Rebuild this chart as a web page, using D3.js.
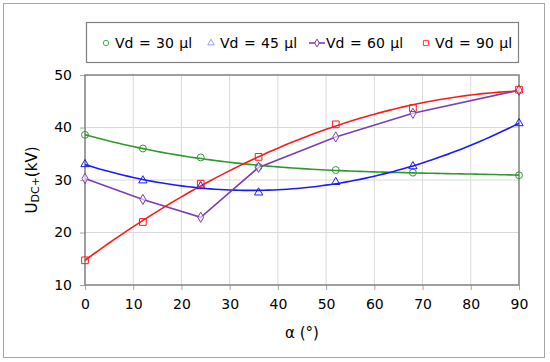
<!DOCTYPE html>
<html>
<head>
<meta charset="utf-8">
<script src="https://cdn.jsdelivr.net/npm/d3@7"></script>
<style>
  body { margin: 0; background: #fff; }
  text { font-family: "DejaVu Sans", Verdana, sans-serif; fill: #000; }
</style>
</head>
<body>
<div id="chart"></div>
<script>
// angle values (deg)
const alpha = [0, 12, 24, 36, 52, 68, 90];

// U_DC+ (kV) for each droplet volume
const vd30 = [38.6, 36.0, 34.3, 32.5, 31.9, 31.4, 30.9];
const vd45 = [33.0, 29.9, 28.8, 27.6, 29.6, 32.6, 40.8];
const vd60 = [30.3, 26.3, 22.9, 32.4, 38.2, 42.7, 47.1];
const vd90 = [14.7, 22.0, 29.3, 34.4, 40.6, 43.7, 47.2];

const seriesNames = ["Vd = 30 µl", "Vd = 45 µl", "Vd = 60 µl", "Vd = 90 µl"];
const xTicks = [0, 10, 20, 30, 40, 50, 60, 70, 80, 90];
const yTicks = [10, 20, 30, 40, 50];

const width = 550, height = 362;
const plot = { left: 85, right: 519, top: 75, bottom: 285 };

const svg = d3.select("#chart").append("svg")
    .attr("width", width)
    .attr("height", height);

// outer frame
svg.append("rect")
    .attr("x", 3.5).attr("y", 3.5)
    .attr("width", 541).attr("height", 354)
    .attr("fill", "#fff")
    .attr("stroke", "#a6a6a6");

const x = d3.scaleLinear().domain([0, 90]).range([plot.left, plot.right]);
const y = d3.scaleLinear().domain([10, 50]).range([plot.bottom, plot.top]);

// gridlines
svg.append("g").selectAll("line")
    .data(xTicks.slice(1, -1))
    .join("line")
    .attr("x1", d => x(d)).attr("x2", d => x(d))
    .attr("y1", plot.top).attr("y2", plot.bottom)
    .attr("stroke", "#d9d9d9");
svg.append("g").selectAll("line")
    .data(yTicks.slice(1, -1))
    .join("line")
    .attr("x1", plot.left).attr("x2", plot.right)
    .attr("y1", d => y(d)).attr("y2", d => y(d))
    .attr("stroke", "#d9d9d9");

// axes
const xAxis = svg.append("g")
    .attr("transform", "translate(0," + plot.bottom + ")")
    .call(d3.axisBottom(x).tickValues(xTicks).tickSize(5).tickPadding(9));
const yAxis = svg.append("g")
    .attr("transform", "translate(" + plot.left + ",0)")
    .call(d3.axisLeft(y).tickValues(yTicks).tickSize(5).tickPadding(8));
[xAxis, yAxis].forEach(function(a) {
    a.select(".domain").remove();
    a.selectAll(".tick line").attr("stroke", "#a6a6a6");
    a.selectAll(".tick text").style("font-size", "14px")
        .style("font-family", "'DejaVu Sans', Verdana, sans-serif");
});

// plot border
svg.append("rect")
    .attr("x", plot.left).attr("y", plot.top)
    .attr("width", plot.right - plot.left).attr("height", plot.bottom - plot.top)
    .attr("fill", "none")
    .attr("stroke", "#808080")
    .attr("stroke-width", 1.5);

// least squares polynomial trendline (like the spreadsheet's)
function polyfit(xs, ys, order) {
    const n = order + 1;
    const A = [];
    for (let i = 0; i < n; i++) {
        A.push([]);
        for (let j = 0; j <= n; j++) A[i].push(0);
    }
    xs.forEach(function(xv, k) {
        for (let i = 0; i < n; i++) {
            for (let j = 0; j < n; j++) A[i][j] += Math.pow(xv, i + j);
            A[i][n] += ys[k] * Math.pow(xv, i);
        }
    });
    for (let i = 0; i < n; i++) {
        let p = i;
        for (let r = i + 1; r < n; r++) if (Math.abs(A[r][i]) > Math.abs(A[p][i])) p = r;
        [A[i], A[p]] = [A[p], A[i]];
        for (let r = 0; r < n; r++) {
            if (r === i) continue;
            const f = A[r][i] / A[i][i];
            for (let c = i; c <= n; c++) A[r][c] -= f * A[i][c];
        }
    }
    const coef = A.map((row, i) => row[n] / row[i]);
    return xv => coef.reduce((s, c, i) => s + c * Math.pow(xv, i), 0);
}

const series = [
    { name: seriesNames[0], values: vd30, color: "#2e9a2e", marker: "circle", trend: true },
    { name: seriesNames[1], values: vd45, color: "#1a1aff", marker: "triangle", trend: true },
    { name: seriesNames[2], values: vd60, color: "#7b3fb5", marker: "diamond", trend: false },
    { name: seriesNames[3], values: vd90, color: "#ff1a1a", marker: "square", trend: true }
];

const symbolType = {
    circle: d3.symbolCircle,
    triangle: d3.symbolTriangle,
    diamond: d3.symbolDiamond,
    square: d3.symbolSquare
};
const symbolSize = { circle: 38, triangle: 30, diamond: 30, square: 45 };

const line = d3.line().x(d => x(d[0])).y(d => y(d[1]));
const samples = d3.range(0, 90.01, 1);

series.forEach(function(s) {
    let pts;
    if (s.trend) {
        const f = polyfit(alpha, s.values, s.marker === "circle" ? 3 : 2);
        pts = samples.map(a => [a, f(a)]);
    } else {
        pts = alpha.map((a, i) => [a, s.values[i]]);
    }
    svg.append("path")
        .datum(pts)
        .attr("d", line)
        .attr("fill", "none")
        .attr("stroke", s.color)
        .attr("stroke-width", 1.6);
});

series.forEach(function(s) {
    svg.append("g").selectAll("path")
        .data(alpha.map((a, i) => [a, s.values[i]]))
        .join("path")
        .attr("transform", d => "translate(" + x(d[0]) + "," + y(d[1]) + ")")
        .attr("d", d3.symbol().type(symbolType[s.marker]).size(symbolSize[s.marker]))
        .attr("fill", "#fff")
        .attr("fill-opacity", s.marker === "diamond" ? 0.6 : 0)
        .attr("stroke", s.color)
        .attr("stroke-width", 1);
});

// legend
const legend = svg.append("g");
legend.append("rect")
    .attr("x", 86.5).attr("y", 22.5)
    .attr("width", 432).attr("height", 40)
    .attr("fill", "#fff")
    .attr("stroke", "#808080")
    .attr("stroke-width", 1.2);

const legendX = [106, 211, 317, 426];
const legendColors = ["#4caf4c", "#9a9aff", "#7b3fb5", "#ff3b3b"];
series.forEach(function(s, i) {
    const g = legend.append("g").attr("transform", "translate(" + legendX[i] + ",43)");
    if (s.marker === "diamond") {
        g.append("line").attr("x1", -8).attr("x2", 8)
            .attr("stroke", s.color).attr("stroke-width", 1.6);
    }
    g.append("path")
        .attr("d", d3.symbol().type(symbolType[s.marker]).size(symbolSize[s.marker] * 0.6))
        .attr("fill", "#fff")
        .attr("stroke", legendColors[i])
        .attr("stroke-width", 1);
    g.append("text")
        .attr("x", 9)
        .attr("y", 5)
        .style("font-size", "14px")
        .style("word-spacing", "1px")
        .text(s.name);
});

// axis titles
svg.append("text")
    .attr("x", (plot.left + plot.right) / 2)
    .attr("y", 338)
    .attr("text-anchor", "middle")
    .style("font-size", "15px")
    .text("α (°)");

const yTitle = svg.append("text")
    .attr("transform", "translate(37," + (plot.top + plot.bottom) / 2 + ") rotate(-90)")
    .attr("text-anchor", "middle")
    .style("font-size", "15px");
yTitle.append("tspan").text("U");
yTitle.append("tspan").style("font-size", "11px").attr("dy", 2).text("DC+");
yTitle.append("tspan").attr("dy", -2).text("(kV)");
</script>
</body>
</html>
